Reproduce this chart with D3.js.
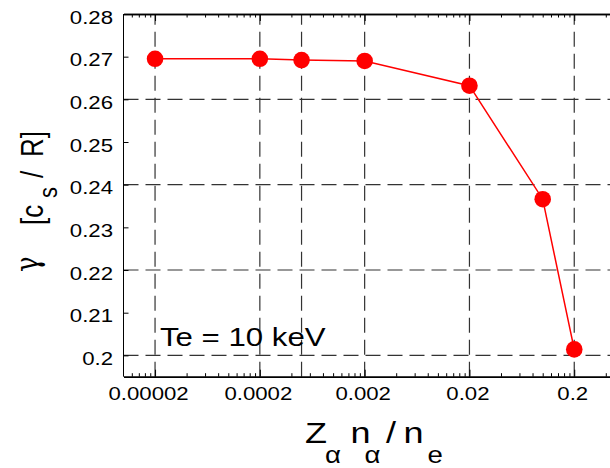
<!DOCTYPE html>
<html>
<head>
<meta charset="utf-8">
<script src="https://cdn.jsdelivr.net/npm/d3@7"></script>
<style>
  body { margin: 0; background: #fff; }
  svg { display: block; font-family: "Liberation Sans", Arial, sans-serif; }
  .axis path, .axis line { stroke: #000; }
  .grid line { stroke: #333; stroke-width: 1.2; stroke-dasharray: 15,7; }
</style>
</head>
<body>
<svg id="chart"></svg>
<script>
// data
var xVals = [0.00002, 0.0002, 0.0005, 0.002, 0.02, 0.1, 0.2];
var gammaVals = [0.2695, 0.2695, 0.2692, 0.2690, 0.2632, 0.2366, 0.2014];
var xTickVals = [0.00002, 0.0002, 0.002, 0.02, 0.2];
var xTickLabels = ["0.00002", "0.0002", "0.002", "0.02", "0.2"];
var xGridVals = [0.00002, 0.0002, 0.0005, 0.002, 0.02, 0.2];
var yTickVals = [0.2, 0.21, 0.22, 0.23, 0.24, 0.25, 0.26, 0.27, 0.28];
var yTickLabels = ["0.2", "0.21", "0.22", "0.23", "0.24", "0.25", "0.26", "0.27", "0.28"];
var yGridVals = [0.2, 0.22, 0.24, 0.26];

var width = 610, height = 468;
var plotLeft = 123.5, plotTop = 14, plotBottom = 376.7, decade = 104.8;

var xscale = d3.scaleLog()
  .domain([0.00001, 0.5])
  .range([plotLeft, plotLeft + Math.log10(0.5 / 0.00001) * decade]);
var yscale = d3.scaleLinear()
  .domain([0.195, 0.28])
  .range([plotBottom, plotTop]);

// minor ticks at 2*10^n * k
var minorVals = [];
for (var n = -6; n <= 0; n++) {
  for (var k = 2; k <= 9; k++) {
    var v = 2 * k * Math.pow(10, n);
    if (v >= 0.00001 && v <= 0.5) minorVals.push(+v.toPrecision(3));
  }
}

var svg = d3.select("#chart").attr("width", width).attr("height", height);
svg.append("rect").attr("width", width).attr("height", height).attr("fill", "#fff");

//Grid
var grid = svg.append("g").attr("class", "grid");
grid.selectAll("line.v").data(xGridVals).enter().append("line")
  .attr("class", "v")
  .attr("x1", function(d){ return xscale(d); }).attr("x2", function(d){ return xscale(d); })
  .attr("y1", plotBottom).attr("y2", plotTop);
grid.selectAll("line.h").data(yGridVals).enter().append("line")
  .attr("class", "h")
  .attr("x1", plotLeft).attr("x2", width)
  .attr("y1", function(d){ return yscale(d); }).attr("y2", function(d){ return yscale(d); });

//X axes, bottom and top
var xaxis = d3.axisBottom(xscale).tickValues(xTickVals).tickSize(-7).tickSizeOuter(0)
  .tickFormat(function(d, i){ return xTickLabels[i]; });
var gx = svg.append("g").attr("class", "axis")
  .attr("transform", "translate(0," + plotBottom + ")")
  .call(xaxis);
gx.selectAll("text")
  .attr("y", null).attr("dy", null)
  .attr("transform", function(d, i){ return "translate(" + (i === 0 ? -7 : -2) + ",23.3) scale(1.2,1)"; })
  .attr("font-size", 18.5).attr("font-family", "Liberation Sans, Arial, sans-serif").attr("fill", "#000");
svg.append("g").attr("class", "axis")
  .attr("transform", "translate(0," + plotBottom + ")")
  .call(d3.axisBottom(xscale).tickValues(minorVals).tickSize(-3.5).tickSizeOuter(0).tickFormat(""));
svg.append("g").attr("class", "axis")
  .attr("transform", "translate(0," + plotTop + ")")
  .call(d3.axisTop(xscale).tickValues(xTickVals).tickSize(-7).tickSizeOuter(0).tickFormat(""));
svg.append("g").attr("class", "axis")
  .attr("transform", "translate(0," + plotTop + ")")
  .call(d3.axisTop(xscale).tickValues(minorVals).tickSize(-3.5).tickSizeOuter(0).tickFormat(""));
svg.selectAll(".axis path").attr("stroke-width", 1.6);

//Y axis
var yaxis = d3.axisLeft(yscale).tickValues(yTickVals).tickSize(-5).tickSizeOuter(0)
  .tickFormat(function(d, i){ return yTickLabels[i]; });
var gy = svg.append("g").attr("class", "axis")
  .attr("transform", "translate(" + plotLeft + ",0)")
  .call(yaxis);
gy.select("path.domain").attr("d", "M0," + plotBottom + "V" + plotTop);
gy.selectAll("text")
  .attr("x", null).attr("dy", null)
  .attr("transform", "translate(-10.5,9) scale(1.2,1)")
  .attr("font-size", 18.5).attr("font-family", "Liberation Sans, Arial, sans-serif").attr("fill", "#000");

//Line and markers
var line = d3.line()
  .x(function(d, i){ return xscale(xVals[i]); })
  .y(function(d){ return yscale(d); });
svg.append("path").datum(gammaVals)
  .attr("d", line).attr("fill", "none").attr("stroke", "#ff0000").attr("stroke-width", 1.5);
svg.selectAll("circle").data(gammaVals).enter().append("circle")
  .attr("cx", function(d, i){ return xscale(xVals[i]); })
  .attr("cy", function(d){ return yscale(d); })
  .attr("r", 8.3).attr("fill", "#ff0000");

//Annotation
svg.append("text")
  .attr("transform", "translate(160,346) scale(1.2,1)")
  .attr("font-size", 26).attr("fill", "#000")
  .text("Te = 10 keV");

//X label
var xl = svg.append("text")
  .attr("transform", "translate(305,443) scale(1.2,1)")
  .attr("font-size", 30).attr("fill", "#000");
xl.append("tspan").attr("x", 0).attr("y", 0).text("Z");
xl.append("tspan").attr("x", 16.7).attr("y", 20).attr("font-size", 23).text("α");
xl.append("tspan").attr("x", 38).attr("y", 0).text("n");
xl.append("tspan").attr("x", 49.5).attr("y", 20).attr("font-size", 23).text("α");
xl.append("tspan").attr("x", 67.5).attr("y", 0).text("/");
xl.append("tspan").attr("x", 82).attr("y", 0).text("n");
xl.append("tspan").attr("x", 102).attr("y", 20).attr("font-size", 23).text("e");

//Y label
var yl = svg.append("text")
  .attr("transform", "translate(43,272) scale(1.2,1) rotate(-90)")
  .attr("font-size", 26).attr("fill", "#000");
yl.append("tspan").attr("x", 0).attr("y", -4).attr("font-family", "DejaVu Serif").text("γ");
yl.append("tspan").attr("x", 47).attr("y", 0).text("[c");
yl.append("tspan").attr("x", 74).attr("y", 11.5).attr("font-size", 22).text("s");
yl.append("tspan").attr("x", 94).attr("y", 0).text("/");
yl.append("tspan").attr("x", 115).attr("y", 0).text("R]");
</script>
</body>
</html>
